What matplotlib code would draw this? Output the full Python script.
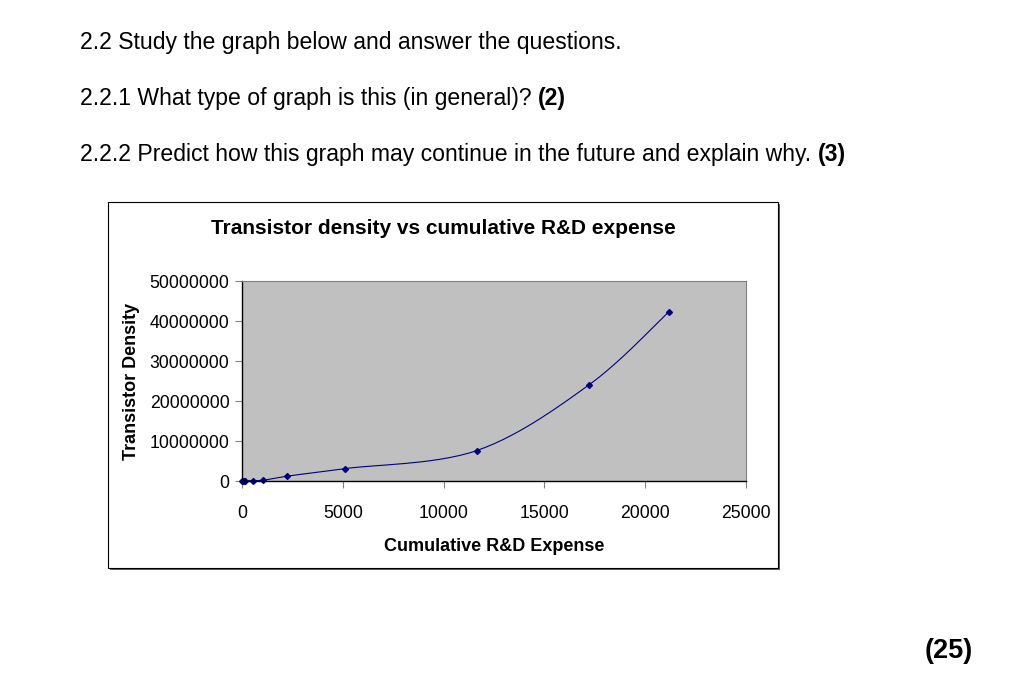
import numpy as np
import matplotlib
matplotlib.use("Agg")
import matplotlib.pyplot as plt
from matplotlib.patches import Rectangle

plt.rcParams['font.family'] = ['Liberation Sans', 'DejaVu Sans']

# data
rd_expense = [0, 30, 80, 150, 530, 1060, 2230, 5110, 11640, 17230, 21170]
density = [2300, 6000, 15000, 30000, 120000, 200000, 1200000, 3100000, 7600000, 24100000, 42300000]
x_ticks = [0, 5000, 10000, 15000, 20000, 25000]
y_ticks = [0, 10000000, 20000000, 30000000, 40000000, 50000000]

questions = [
    ("2.2 Study the graph below and answer the questions.", None),
    ("2.2.1 What type of graph is this (in general)? ", "(2)"),
    ("2.2.2 Predict how this graph may continue in the future and explain why. ", "(3)"),
]


def smooth(xs, ys, n=30):
    # catmull-rom, roughly what excel does for "smoothed line"
    xs = np.asarray(xs, float)
    ys = np.asarray(ys, float)
    px = np.concatenate([[xs[0]], xs, [xs[-1]]])
    py = np.concatenate([[ys[0]], ys, [ys[-1]]])
    ox, oy = [], []
    t = np.linspace(0, 1, n)
    for i in range(1, len(px) - 2):
        for p, out in ((px, ox), (py, oy)):
            p0, p1, p2, p3 = p[i - 1], p[i], p[i + 1], p[i + 2]
            m1 = (p2 - p0) / 2
            m2 = (p3 - p1) / 2
            h00 = 2 * t**3 - 3 * t**2 + 1
            h10 = t**3 - 2 * t**2 + t
            h01 = -2 * t**3 + 3 * t**2
            h11 = t**3 - t**2
            out.extend(h00 * p1 + h10 * m1 + h01 * p2 + h11 * m2)
    return np.array(ox), np.array(oy)


W, H = 1009, 676
fig = plt.figure(figsize=(W / 100, H / 100), dpi=100)

# question text
ys_txt = [43, 99, 155]
for (txt, bold), yy in zip(questions, ys_txt):
    t = fig.text(80 / W, 1 - yy / H, txt, fontsize=16.6, va='center', ha='left')
    if bold:
        fig.canvas.draw()
        bb = t.get_window_extent()
        fig.text(bb.x1 / W, 1 - yy / H, bold, fontsize=16.6, fontweight='bold', va='center', ha='left')

fig.text(973 / W, 1 - 651 / H, "(25)", fontsize=19.5, fontweight='bold', ha='right', va='center')

# chart frame with a bit of shadow
fig.patches.append(Rectangle((110 / W, 1 - 570 / H), 670 / W, 366 / H, transform=fig.transFigure,
                             facecolor='#606060', edgecolor='none', zorder=0))
fig.patches.append(Rectangle((108 / W, 1 - 568 / H), 670 / W, 366 / H, transform=fig.transFigure,
                             facecolor='white', edgecolor='black', linewidth=0.8, zorder=0))

ax = fig.add_axes([242 / W, 1 - 481 / H, 504 / W, 200 / H])
ax.set_zorder(2)
ax.set_facecolor('#C0C0C0')

lx, ly = smooth(rd_expense, density)
ax.plot(lx, ly, color='#000080', linewidth=0.8, clip_on=False)
ax.plot(rd_expense, density, linestyle='none', marker='D', markersize=3, color='#000080', clip_on=False)

ax.set_xlim(0, 25000)
ax.set_ylim(0, 50000000)
ax.set_xticks(x_ticks)
ax.set_yticks(y_ticks)
ax.set_xticklabels([str(v) for v in x_ticks], fontsize=12.7)
ax.set_yticklabels([str(v) for v in y_ticks], fontsize=12.7)
ax.tick_params(axis='x', direction='out', length=5, pad=12, width=0.8, color='#808080')
ax.tick_params(axis='y', direction='out', length=5, pad=4, width=0.8, color='#808080')

for s in ['top', 'right']:
    ax.spines[s].set_color('#808080')
    ax.spines[s].set_linewidth(0.8)
for s in ['left', 'bottom']:
    ax.spines[s].set_color('black')
    ax.spines[s].set_linewidth(1.0)

ax.set_xlabel("Cumulative R&D Expense", fontsize=13, fontweight='bold', labelpad=12)
ax.set_ylabel("Transistor Density", fontsize=13, fontweight='bold', labelpad=7)

fig.text(443 / W, 1 - 229 / H, "Transistor density vs cumulative R&D expense",
         fontsize=15, fontweight='bold', ha='center', va='center')

fig.savefig("out.png", dpi=100)
